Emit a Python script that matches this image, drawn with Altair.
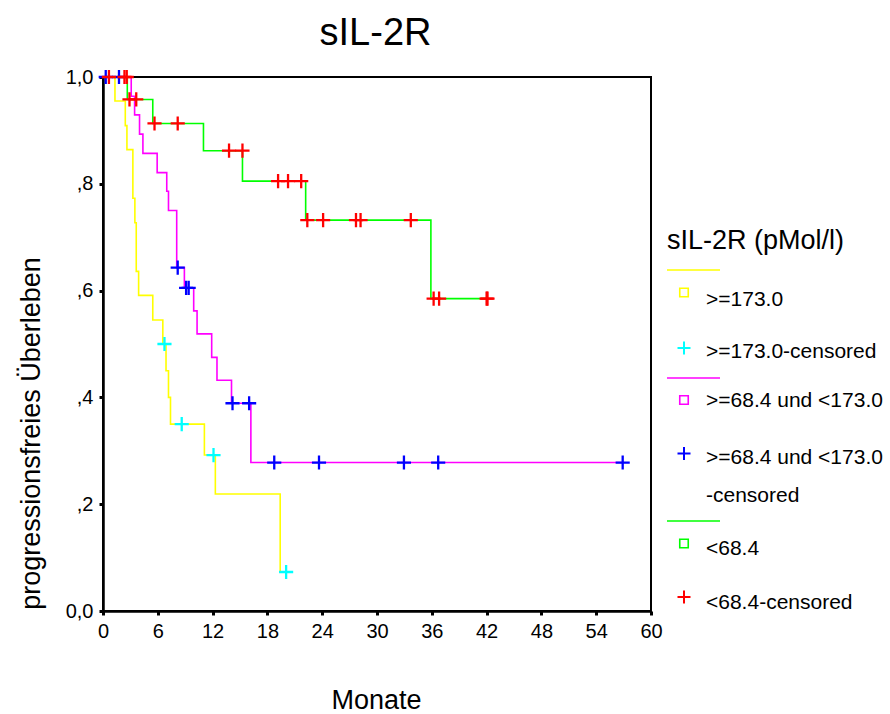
import altair as alt
import pandas as pd

# ---------------- data ----------------
chart_title = "sIL-2R"
x_title = "Monate"
y_title = "progressionsfreies Überleben"
legend_title = "sIL-2R (pMol/l)"

groups = [">=173.0", ">=68.4 und <173.0", "<68.4"]
censor_groups = [">=173.0-censored", ">=68.4 und <173.0-censored", "<68.4-censored"]
x_ticks = [0, 6, 12, 18, 24, 30, 36, 42, 48, 54, 60]
y_ticks = [0.0, 0.2, 0.4, 0.6, 0.8, 1.0]

# group >=173.0 (step curve)
g1_t = [0, 1.31, 2.44, 2.62, 3.27, 3.49, 3.64, 3.90, 5.45, 6.55, 6.90, 7.17, 7.39, 11.10, 12.30, 19.40, 20.05]
g1_s = [1.0, 0.955, 0.909, 0.864, 0.773, 0.727, 0.636, 0.591, 0.545, 0.500, 0.450, 0.400, 0.350, 0.292, 0.219, 0.073, 0.073]
g1c_t = [6.73, 8.62, 12.10, 20.05]
g1c_s = [0.500, 0.350, 0.292, 0.073]

# group >=68.4 und <173.0
g2_t = [0, 3.09, 3.46, 4.00, 4.37, 5.93, 6.98, 7.17, 8.07, 8.91, 9.93, 10.30, 11.90, 12.48, 14.07, 16.19, 56.90]
g2_s = [1.0, 0.964, 0.929, 0.893, 0.857, 0.821, 0.786, 0.750, 0.643, 0.605, 0.562, 0.519, 0.475, 0.432, 0.389, 0.278, 0.278]
g2c_t = [0.30, 1.75, 8.18, 9.10, 9.38, 14.18, 16.00, 18.75, 23.65, 32.95, 36.70, 56.90]
g2c_s = [1.0, 1.0, 0.643, 0.605, 0.605, 0.389, 0.389, 0.278, 0.278, 0.278, 0.278, 0.278]

# group <68.4
g3_t = [0, 2.66, 5.45, 11.00, 15.27, 22.19, 35.90, 42.10]
g3_s = [1.0, 0.958, 0.913, 0.862, 0.805, 0.732, 0.585, 0.585]
g3c_t = [0.65, 2.35, 2.60, 2.90, 3.64, 5.64, 8.18, 13.80, 15.27, 19.17, 20.26, 21.70,
         22.37, 24.10, 27.70, 28.20, 33.70, 36.20, 36.80, 42.00, 42.10]
g3c_s = [1.0, 1.0, 1.0, 0.958, 0.958, 0.913, 0.913, 0.862, 0.862, 0.805, 0.805, 0.805,
         0.732, 0.732, 0.732, 0.732, 0.732, 0.585, 0.585, 0.585, 0.585]

legend_labels = [">=173.0", ">=173.0-censored", ">=68.4 und <173.0",
                 ">=68.4 und <173.0", "-censored", "<68.4", "<68.4-censored"]

# ---------------- styles / layout ----------------
FONT = "Liberation Sans"
line_colors = ["#FFFF00", "#FF00FF", "#00FF00"]
cens_colors = ["#00FFFF", "#0000FF", "#FF0000"]
CROSS = "M-1,0L1,0M0,-1L0,1"

W, H = 548, 534          # plot area
PL, PT = 103, 77         # plot origin on the page

lines_df = pd.concat([
    pd.DataFrame({"t": t, "s": s, "grp": g})
    for t, s, g in [(g1_t, g1_s, groups[0]), (g2_t, g2_s, groups[1]), (g3_t, g3_s, groups[2])]
], ignore_index=True)

cens_df = pd.concat([
    pd.DataFrame({"t": t, "s": s, "cgrp": g})
    for t, s, g in [(g1c_t, g1c_s, censor_groups[0]), (g2c_t, g2c_s, censor_groups[1]),
                    (g3c_t, g3c_s, censor_groups[2])]
], ignore_index=True)

xs = alt.Scale(domain=[0, 60], nice=False, zero=False)
ys = alt.Scale(domain=[0, 1], nice=False)

x_axis = alt.Axis(values=x_ticks, grid=False, labelFontSize=20, labelFont=FONT, labelColor="black",
                  labelPadding=6, tickColor="black", tickSize=4, tickWidth=3,
                  domainColor="black", domainWidth=2.5, titleFont=FONT, titleFontSize=27,
                  titleFontWeight="normal", titleColor="black", titleX=273, titleY=97,
                  titleBaseline="alphabetic", titleAlign="center", labelFlush=False)
y_axis = alt.Axis(values=y_ticks, grid=False, labelFontSize=20, labelFont=FONT, labelColor="black",
                  labelPadding=6, tickColor="black", tickSize=4, tickWidth=3,
                  domainColor="black", domainWidth=2.5, titleFont=FONT, titleFontSize=27,
                  titleFontWeight="normal", titleColor="black", titleX=-64, titleY=356,
                  titleAngle=270, titleBaseline="alphabetic", titleAlign="center",
                  labelFlush=False,
                  labelExpr="datum.value == 0 ? '0,0' : (datum.value == 1 ? '1,0' : ',' + round(datum.value*10))")

lines = alt.Chart(lines_df).mark_line(interpolate="step-after", strokeWidth=1.6).encode(
    x=alt.X("t:Q", scale=xs, axis=x_axis, title=x_title),
    y=alt.Y("s:Q", scale=ys, axis=y_axis, title=y_title),
    color=alt.Color("grp:N", scale=alt.Scale(domain=groups, range=line_colors), legend=None),
)

cens = alt.Chart(cens_df).mark_point(shape=CROSS, size=200, filled=False, strokeWidth=2.3, opacity=1).encode(
    x=alt.X("t:Q", scale=xs),
    y=alt.Y("s:Q", scale=ys),
    stroke=alt.Stroke("cgrp:N", scale=alt.Scale(domain=censor_groups, range=cens_colors), legend=None),
)

layers = [lines, cens]

# title
layers.append(
    alt.Chart(pd.DataFrame({"txt": [chart_title]})).mark_text(
        font=FONT, fontSize=38, align="center", baseline="alphabetic", color="black"
    ).encode(x=alt.value(375.5 - PL), y=alt.value(44.5 - PT), text="txt:N")
)

# legend title
layers.append(
    alt.Chart(pd.DataFrame({"txt": [legend_title]})).mark_text(
        font=FONT, fontSize=27, align="left", baseline="alphabetic", color="black"
    ).encode(x=alt.value(667 - PL), y=alt.value(248.5 - PT), text="txt:N")
)

# legend lines
for yy, col in zip([270, 378, 521], line_colors):
    layers.append(
        alt.Chart(pd.DataFrame({"k": [0]})).mark_rule(strokeWidth=1.6, color=col).encode(
            x=alt.value(667 - PL), x2=alt.value(720 - PL), y=alt.value(yy - PT))
    )
# legend squares
for yy, col in zip([292.5, 400, 543.5], line_colors):
    layers.append(
        alt.Chart(pd.DataFrame({"k": [0]})).mark_point(shape="square", size=72, filled=False,
                                                       strokeWidth=1.6, color=col, opacity=1).encode(
            x=alt.value(684 - PL), y=alt.value(yy - PT))
    )
# legend crosses
for yy, col in zip([348, 453.5, 597], cens_colors):
    layers.append(
        alt.Chart(pd.DataFrame({"k": [0]})).mark_point(shape=CROSS, size=169, filled=False,
                                                       strokeWidth=2, color=col, opacity=1).encode(
            x=alt.value(684 - PL), y=alt.value(yy - PT))
    )
# legend texts
for yy, lab in zip([306, 357.5, 407, 463.5, 501.5, 554.5, 608.5], legend_labels):
    layers.append(
        alt.Chart(pd.DataFrame({"txt": [lab]})).mark_text(
            font=FONT, fontSize=21, align="left", baseline="alphabetic", color="black"
        ).encode(x=alt.value(706 - PL), y=alt.value(yy - PT), text="txt:N")
    )

chart = alt.layer(*layers).properties(
    width=W, height=H,
    autosize=alt.AutoSizeParams(type="none"),
    padding={"left": PL, "top": PT, "right": 890 - PL - W, "bottom": 714 - PT - H},
    background="white",
).configure(font=FONT).configure_view(stroke="black", strokeWidth=2)

chart.save("out.html", embed_options={"renderer": "svg", "actions": False})
